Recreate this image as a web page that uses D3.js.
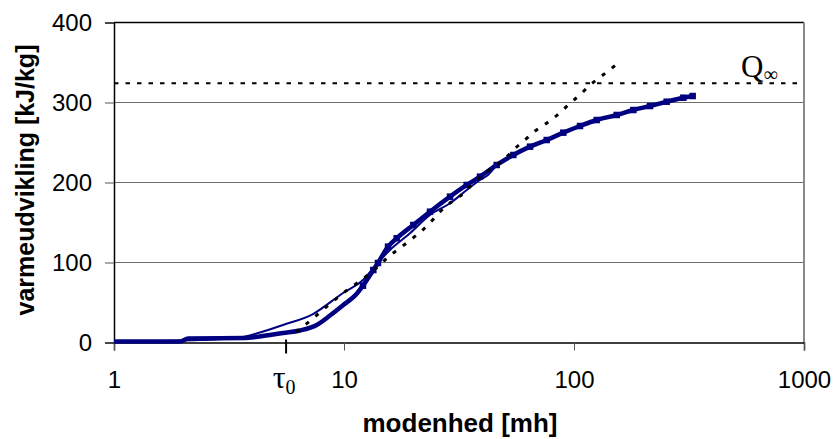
<!DOCTYPE html>
<html><head><meta charset="utf-8">
<script src="https://cdn.jsdelivr.net/npm/d3@7"></script>
<style>
html,body{margin:0;padding:0;background:#fff;}
svg{display:block;}
</style></head>
<body>
<svg id="chart" width="834" height="439"></svg>
<script>
// ---- data ----
const xTickValues = [1, 10, 100, 1000];
const yTickValues = [0, 100, 200, 300, 400];
const tau0 = 5.6;      // mh
const Qinf = 324;      // kJ/kg

// thick series (with square markers)
const thickM = [1, 1.43, 1.94, 2.10, 3.64, 4.31, 5.43, 6.44, 7.61, 8.69, 9.90, 11.36, 12.09, 13.41, 14.05, 15.54, 16.95, 20.01, 23.65, 28.90, 34.17, 39.02, 46.12, 54.47, 64.40, 76.08, 89.85, 106.2, 125.5, 153.4, 181.1, 214.0, 252.9, 298.7, 328.1];
const thickQ = [1.2, 1.2, 1.2, 5.0, 5.6, 7.5, 11.9, 15.0, 21.9, 33.7, 46.5, 61.0, 71.0, 90.6, 99.4, 119.8, 130.3, 146.9, 163.5, 182.3, 196.9, 207.3, 221.9, 234.4, 244.8, 253.1, 262.3, 270.6, 278.1, 284.4, 290.6, 295.6, 301.0, 306.0, 308.1];

// thin series
const thinM = [1, 2.37, 3.53, 4.31, 5.43, 7.33, 9.90, 12.09, 14.05, 15.85, 19.36, 23.65, 28.90, 34.17, 39.02, 42.28, 46.12];
const thinQ = [1.2, 3.1, 6.2, 12.5, 21.9, 35.6, 61.9, 78.1, 100.0, 115.6, 136.5, 159.4, 174.0, 190.6, 203.1, 209.4, 221.9];

// fitted model curve (dotted)
const fitM = [6.18, 6.77, 7.48, 8.41, 9.77, 10.80, 11.94, 13.20, 14.34, 15.54, 17.52, 20.70, 23.19, 26.15, 29.39, 31.94, 37.75, 41.73, 50.1, 55.4, 61.2, 67.0, 74.1, 79.2, 87.5, 96.7, 105.4, 115.4, 126.2, 139.6, 153.4];
const fitQ = [13.1, 21.9, 32.3, 44.8, 60.3, 69.8, 78.1, 88.5, 96.9, 106.9, 118.1, 134.4, 146.9, 163.5, 176.0, 183.0, 203.0, 213.5, 230.0, 242.7, 253.0, 263.5, 271.9, 278.0, 287.8, 300.0, 308.5, 319.8, 329.0, 338.5, 348.0];

// ---- drawing ----
const svg = d3.select("#chart");
const L = 114, R = 804, T = 22.5, B = 342.5;
const x = d3.scaleLog().domain([1, 1000]).range([L, R]);
const y = d3.scaleLinear().domain([0, 400]).range([B, T]);
const navy = "#000080";

// gridlines
svg.append("g").selectAll("line").data(yTickValues.filter(v => v > 0)).join("line")
  .attr("x1", L).attr("x2", R)
  .attr("y1", d => y(d)).attr("y2", d => y(d))
  .attr("stroke", d => d === 400 ? "#000" : "#6e6e6e")
  .attr("stroke-width", d => d === 400 ? 1.3 : 1);

// right border
svg.append("line").attr("x1", R).attr("x2", R).attr("y1", T).attr("y2", B)
  .attr("stroke", "#8a8a8a").attr("stroke-width", 2);

// Q-infinity line
svg.append("line").attr("x1", L).attr("x2", R).attr("y1", y(Qinf)).attr("y2", y(Qinf))
  .attr("stroke", "#000").attr("stroke-width", 2).attr("stroke-dasharray", "4.5,7");

// axes
const yAxis = d3.axisLeft(y).tickValues(yTickValues).tickSize(9).tickPadding(13).tickFormat(d3.format("d"));
const gy = svg.append("g").attr("transform", `translate(${L},0)`).call(yAxis);
gy.select(".domain").attr("stroke", "#000").attr("stroke-width", 1.5);
gy.selectAll(".tick line").attr("stroke", "#555").attr("stroke-width", 1);
gy.selectAll(".tick text").attr("font-family", "Liberation Sans, Arial, sans-serif")
  .attr("font-size", 24).attr("fill", "#000");

const xAxis = d3.axisBottom(x).tickValues(xTickValues).tickSize(8).tickPadding(20).tickFormat(d3.format("d"));
const gx = svg.append("g").attr("transform", `translate(0,${B})`).call(xAxis);
gx.select(".domain").attr("stroke", "#000").attr("stroke-width", 1.5);
gx.selectAll(".tick line").attr("stroke", "#555").attr("stroke-width", 1);
gx.selectAll(".tick text").attr("font-family", "Liberation Sans, Arial, sans-serif")
  .attr("font-size", 24).attr("fill", "#000");

// tau0 tick
svg.append("line").attr("x1", x(tau0)).attr("x2", x(tau0)).attr("y1", B - 3).attr("y2", B + 11)
  .attr("stroke", "#000").attr("stroke-width", 2);
const tauText = svg.append("text").attr("x", x(tau0) - 2).attr("y", 388)
  .attr("text-anchor", "middle")
  .attr("font-family", "Liberation Serif, Times New Roman, serif").attr("font-size", 32).attr("fill", "#000");
tauText.append("tspan").text("τ");
tauText.append("tspan").attr("font-size", 20).attr("dy", 6).text("0");

// series
const line = d3.line().x(d => x(d[0])).y(d => y(d[1])).curve(d3.curveMonotoneX);
const thinData = thinM.map((m, i) => [m, thinQ[i]]);
const thickData = thickM.map((m, i) => [m, thickQ[i]]);
const fitData = fitM.map((m, i) => [m, fitQ[i]]);

svg.append("path").datum(thinData).attr("d", line)
  .attr("fill", "none").attr("stroke", navy).attr("stroke-width", 2).attr("stroke-linejoin", "round");

svg.append("path").datum(thickData).attr("d", line)
  .attr("fill", "none").attr("stroke", navy).attr("stroke-width", 4.5).attr("stroke-linejoin", "round");
svg.append("g").selectAll("rect").data(thickData.filter(d => d[0] > 12)).join("rect")
  .attr("x", d => x(d[0]) - 3.25).attr("y", d => y(d[1]) - 3.25)
  .attr("width", 6.5).attr("height", 6.5).attr("fill", navy);

svg.append("path").datum(fitData).attr("d", line)
  .attr("fill", "none").attr("stroke", "#000").attr("stroke-width", 3)
  .attr("stroke-dasharray", "4,8.5");

// Q-infinity label
const qText = svg.append("text").attr("x", 741).attr("y", 77)
  .attr("font-family", "Liberation Serif, Times New Roman, serif").attr("font-size", 31).attr("fill", "#000");
qText.append("tspan").text("Q");
qText.append("tspan").attr("font-size", 20).attr("dy", 4).text("∞");

// axis titles
svg.append("text").attr("x", 460).attr("y", 432).attr("text-anchor", "middle")
  .attr("font-family", "Liberation Sans, Arial, sans-serif").attr("font-weight", "bold")
  .attr("font-size", 26).attr("fill", "#000").text("modenhed [mh]");
svg.append("text").attr("transform", "translate(34,180) rotate(-90)").attr("text-anchor", "middle")
  .attr("font-family", "Liberation Sans, Arial, sans-serif").attr("font-weight", "bold")
  .attr("font-size", 25).attr("fill", "#000").text("varmeudvikling [kJ/kg]");
</script>
</body></html>
